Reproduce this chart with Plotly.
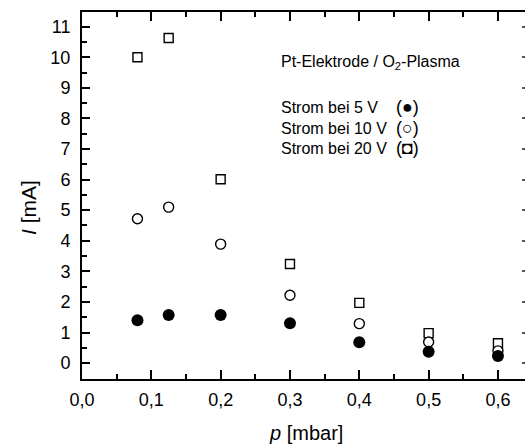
import plotly.graph_objects as go

# ---- data ----
p_mbar = [0.08, 0.125, 0.2, 0.3, 0.4, 0.5, 0.6]
strom_5V = [1.40, 1.57, 1.57, 1.30, 0.68, 0.37, 0.23]
strom_10V = [4.72, 5.10, 3.89, 2.22, 1.29, 0.69, 0.40]
strom_20V = [10.0, 10.63, 6.01, 3.24, 1.97, 0.98, 0.65]

x_range = [0, 0.639]
y_range = [-0.52, 11.48]
x_ticks = [0, 0.1, 0.2, 0.3, 0.4, 0.5, 0.6]
y_ticks = list(range(0, 12))

W, H = 525, 445
ML, MR, MT, MB = 82, 0, 12, 66
PW, PH = W - ML - MR, H - MT - MB

def px(x):
    return (x - ML) / PW

def py(y):
    return (H - MB - y) / PH

FONT = "Arial, Liberation Sans, sans-serif"

fig = go.Figure()
fig.add_trace(go.Scatter(x=p_mbar, y=strom_20V, mode="markers", name="20 V",
                         marker=dict(symbol="square", size=9, color="white",
                                     line=dict(color="black", width=1.4))))
fig.add_trace(go.Scatter(x=p_mbar, y=strom_10V, mode="markers", name="10 V",
                         marker=dict(symbol="circle", size=10, color="white",
                                     line=dict(color="black", width=1.4))))
fig.add_trace(go.Scatter(x=p_mbar, y=strom_5V, mode="markers", name="5 V",
                         marker=dict(symbol="circle", size=12, color="black",
                                     line=dict(color="black", width=0))))
fig.add_trace(go.Scatter(x=[None], y=[None], yaxis="y2", showlegend=False,
                         hoverinfo="skip"))

fig.update_layout(
    width=W, height=H,
    margin=dict(l=ML, r=MR, t=MT, b=MB, pad=0),
    paper_bgcolor="white", plot_bgcolor="white",
    separators=", ",
    showlegend=False,
    font=dict(family=FONT, color="black", size=18),
    xaxis=dict(range=x_range, tickvals=x_ticks, tickformat=".1f",
               showline=True, linecolor="black", linewidth=2, mirror="ticks",
               ticks="inside", ticklen=9, tickwidth=1.6, tickcolor="black",
               minor=dict(ticks="inside", ticklen=5, tickwidth=1.6,
                          tickcolor="black", dtick=0.05, tick0=0, showgrid=False),
               showgrid=False, zeroline=False,
               tickfont=dict(size=18), ticklabelstandoff=3),
    yaxis=dict(range=y_range, tickvals=y_ticks,
               showline=True, linecolor="black", linewidth=2,
               ticks="inside", ticklen=8, tickwidth=1.6, tickcolor="black",
               minor=dict(ticks="inside", ticklen=5, tickwidth=1.6,
                          tickcolor="black", dtick=0.5, tick0=0, showgrid=False),
               showgrid=False, zeroline=False,
               tickfont=dict(size=18), ticklabelstandoff=6),
    yaxis2=dict(range=y_range, overlaying="y", side="right", tickvals=y_ticks,
                showline=False, ticks="inside", ticklen=3, tickwidth=1.5,
                tickcolor="#555", showticklabels=False, showgrid=False,
                zeroline=False),
)

ann = [
    dict(text="<i>p</i> [mbar]", x=px(306), y=py(433), size=20, xanchor="center"),
    dict(text="Pt-Elektrode / O<sub>2</sub>-Plasma", x=px(279), y=py(62), size=16, xanchor="left"),
    dict(text="Strom bei 5 V", x=px(279), y=py(107), size=16, xanchor="left"),
    dict(text="Strom bei 10 V", x=px(279), y=py(128), size=16, xanchor="left"),
    dict(text="Strom bei 20 V", x=px(279), y=py(148), size=16, xanchor="left"),
    dict(text="(●)", x=px(394), y=py(107), size=18, xanchor="left"),
    dict(text="(○)", x=px(394), y=py(128), size=18, xanchor="left"),
    dict(text="(◘)", x=px(394), y=py(148), size=18, xanchor="left"),
]
for a in ann:
    fig.add_annotation(text=a["text"], x=a["x"], y=a["y"], xref="paper", yref="paper",
                       xanchor=a["xanchor"], yanchor="middle", showarrow=False,
                       font=dict(family=FONT, size=a["size"], color="black"))

fig.add_annotation(text="<i>I</i> [mA]", x=px(28), y=py(208), xref="paper", yref="paper",
                   xanchor="center", yanchor="middle", showarrow=False, textangle=-90,
                   font=dict(family=FONT, size=21, color="black"))

fig.write_html("out.html", config={"displayModeBar": False},
               post_script="document.body.style.margin='0';document.body.style.padding='0';")
